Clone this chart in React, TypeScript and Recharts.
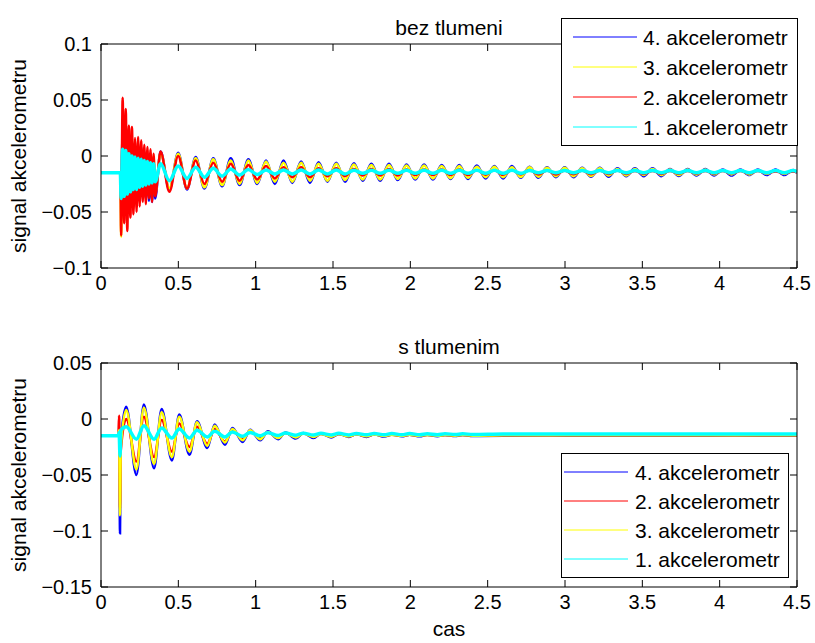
import React from 'react';
import { LineChart, Line, XAxis, YAxis, Legend } from 'recharts';

const FONT = '"Liberation Sans", Arial, Helvetica, sans-serif';

// ---------- shared axis ticks ----------
const X_TICKS = [0, 0.5, 1, 1.5, 2, 2.5, 3, 3.5, 4, 4.5];
const TOP_Y_TICKS = [-0.1, -0.05, 0, 0.05, 0.1];
const BOTTOM_Y_TICKS = [-0.15, -0.1, -0.05, 0, 0.05];

const TOP_TITLE = 'bez tlumeni';
const BOTTOM_TITLE = 's tlumenim';
const Y_LABEL = 'signal akcelerometru';
const X_LABEL = 'cas';

// ---------- top panel (bez tlumeni) ----------
const topTime = [
  0, 0.125,
  0.13, 0.14, 0.15, 0.16, 0.17, 0.18, 0.19, 0.2, 0.21, 0.22, 0.23, 0.24, 0.25, 0.26, 0.27, 0.28, 0.29, 0.3, 0.31, 0.32, 0.33, 0.34, 0.35,
  0.385, 0.442, 0.499, 0.556, 0.612, 0.669, 0.726, 0.783, 0.839, 0.896, 0.953, 1.01, 1.067, 1.124, 1.18, 1.237,
  1.294, 1.351, 1.407, 1.464, 1.521, 1.578, 1.635, 1.692, 1.748, 1.805, 1.862, 1.919, 1.975, 2.032, 2.089, 2.146,
  2.203, 2.26, 2.316, 2.373, 2.43, 2.487, 2.543, 2.6, 2.657, 2.714, 2.771, 2.828, 2.884, 2.941, 2.998, 3.055,
  3.111, 3.168, 3.225, 3.282, 3.339, 3.396, 3.452, 3.509, 3.566, 3.623, 3.679, 3.736, 3.793, 3.85, 3.907, 3.964,
  4.02, 4.077, 4.134, 4.191, 4.247, 4.304, 4.361, 4.418, 4.475, 4.5,
];

const topAk4 = [
  -0.015, -0.015,
  -0.03, 0.02, -0.045, 0.027, -0.048, 0.015, -0.042, 0.012, -0.045, 0.01, -0.04, 0.006, -0.038, 0.008, -0.035, 0.004, -0.038, 0.002, -0.04, 0.0, -0.041, -0.004, -0.038,
  0.004, -0.03, 0.003, -0.03, -0.001, -0.029, -0.002, -0.027, -0.002, -0.026, -0.003, -0.025, -0.004, -0.025, -0.004, -0.024,
  -0.005, -0.024, -0.0055, -0.023, -0.006, -0.023, -0.0065, -0.022, -0.007, -0.022, -0.007, -0.0215, -0.0075, -0.021, -0.0075, -0.021,
  -0.008, -0.0205, -0.008, -0.0205, -0.0085, -0.02, -0.009, -0.02, -0.009, -0.0195, -0.0095, -0.0195, -0.01, -0.019, -0.01, -0.019,
  -0.0105, -0.0185, -0.0105, -0.0185, -0.011, -0.018, -0.011, -0.018, -0.011, -0.018, -0.0115, -0.0178, -0.0115, -0.0175, -0.0115, -0.0175,
  -0.012, -0.0175, -0.012, -0.017, -0.012, -0.017, -0.012, -0.017, -0.0125, -0.015,
];

const topAk3 = [
  -0.015, -0.015,
  -0.072, 0.03, -0.05, 0.025, -0.052, 0.018, -0.045, 0.015, -0.044, 0.01, -0.04, 0.008, -0.038, 0.006, -0.036, 0.004, -0.036, 0.003, -0.035, 0.002, -0.036, 0.0, -0.034,
  0.003, -0.029, 0.002, -0.029, -0.002, -0.028, -0.003, -0.026, -0.004, -0.025, -0.004, -0.024, -0.005, -0.023, -0.006, -0.023,
  -0.006, -0.022, -0.007, -0.022, -0.007, -0.0215, -0.0075, -0.021, -0.008, -0.021, -0.008, -0.0205, -0.0085, -0.02, -0.0085, -0.02,
  -0.009, -0.0198, -0.009, -0.0195, -0.0095, -0.019, -0.0095, -0.019, -0.01, -0.0188, -0.01, -0.0185, -0.0105, -0.018, -0.0105, -0.018,
  -0.011, -0.0178, -0.011, -0.0175, -0.0115, -0.0175, -0.0115, -0.017, -0.0115, -0.017, -0.012, -0.017, -0.012, -0.0168, -0.012, -0.0165,
  -0.0125, -0.0165, -0.0125, -0.0165, -0.0125, -0.016, -0.013, -0.016, -0.013, -0.0145,
];

const topAk2 = [
  -0.015, -0.015,
  -0.071, 0.052, -0.06, 0.042, -0.067, 0.027, -0.055, 0.026, -0.052, 0.016, -0.05, 0.017, -0.045, 0.014, -0.041, 0.01, -0.043, 0.008, -0.038, 0.006, -0.041, 0.002, -0.036,
  0.004, -0.032, 0.0, -0.029, -0.004, -0.025, -0.006, -0.023, -0.007, -0.022, -0.008, -0.021, -0.009, -0.02, -0.01, -0.019,
  -0.01, -0.019, -0.011, -0.018, -0.011, -0.018, -0.0115, -0.0175, -0.0115, -0.0175, -0.0115, -0.0175, -0.012, -0.017, -0.012, -0.017,
  -0.012, -0.017, -0.012, -0.017, -0.0125, -0.0168, -0.0125, -0.0168, -0.0125, -0.0165, -0.0125, -0.0165, -0.013, -0.0165, -0.013, -0.0163,
  -0.013, -0.0163, -0.013, -0.016, -0.013, -0.016, -0.0133, -0.016, -0.0133, -0.016, -0.0133, -0.0158, -0.0135, -0.0158, -0.0135, -0.0158,
  -0.0135, -0.0155, -0.0135, -0.0155, -0.0135, -0.0155, -0.0138, -0.0155, -0.0138, -0.0145,
];

const topAk1 = [
  -0.015, -0.015,
  -0.038, 0.006, -0.036, 0.005, -0.034, 0.002, -0.032, 0.0, -0.03, -0.001, -0.03, -0.002, -0.028, -0.003, -0.027, -0.004, -0.026, -0.005, -0.025, -0.006, -0.024, -0.007, -0.023,
  -0.007, -0.022, -0.009, -0.02, -0.01, -0.019, -0.011, -0.018, -0.0115, -0.017, -0.012, -0.0165, -0.0125, -0.016, -0.0125, -0.016,
  -0.0125, -0.016, -0.0125, -0.016, -0.0125, -0.016, -0.0128, -0.0155, -0.0128, -0.0155, -0.0128, -0.0155, -0.0128, -0.0155, -0.0128, -0.0155,
  -0.0128, -0.0155, -0.0128, -0.0155, -0.0128, -0.0155, -0.0128, -0.0155, -0.0128, -0.0155, -0.013, -0.015, -0.013, -0.015, -0.013, -0.015,
  -0.013, -0.015, -0.013, -0.015, -0.013, -0.015, -0.013, -0.015, -0.013, -0.015, -0.013, -0.015, -0.013, -0.015, -0.013, -0.015,
  -0.013, -0.015, -0.013, -0.015, -0.013, -0.015, -0.013, -0.015, -0.013, -0.014,
];

// ---------- bottom panel (s tlumenim) ----------
const bottomTime = [
  0, 0.112, 0.117, 0.123, 0.128,
  0.163, 0.229, 0.277, 0.343, 0.392, 0.458, 0.506, 0.572, 0.621, 0.687, 0.735, 0.801, 0.85, 0.916, 0.964, 1.03,
  1.079, 1.145, 1.193, 1.259, 1.308, 1.374, 1.422, 1.488, 1.537, 1.603, 1.651, 1.717, 1.766, 1.832, 1.88, 1.946,
  1.995, 2.061, 2.109, 2.175, 2.224, 2.29, 2.338, 2.404,
  2.6, 2.9, 3.2, 3.5, 3.8, 4.1, 4.5,
];

const bottomAk4 = [
  -0.015, -0.015, -0.012, -0.102, -0.02,
  0.011, -0.05, 0.013, -0.044, 0.009, -0.037, 0.004, -0.032, -0.002, -0.026, -0.005, -0.023, -0.008, -0.0205, -0.0095, -0.019,
  -0.011, -0.018, -0.012, -0.0175, -0.0125, -0.017, -0.013, -0.0165, -0.0133, -0.016, -0.0135, -0.016, -0.0137, -0.0157, -0.0138, -0.0155,
  -0.014, -0.0155, -0.014, -0.0153, -0.0142, -0.0152, -0.0143, -0.0152,
  -0.015, -0.0148, -0.015, -0.0149, -0.015, -0.0148, -0.015,
];

const bottomAk2 = [
  -0.015, -0.015, 0.003, -0.08, -0.028,
  0.0, -0.038, 0.002, -0.034, -0.001, -0.029, -0.004, -0.025, -0.007, -0.022, -0.009, -0.02, -0.01, -0.018, -0.011, -0.017,
  -0.012, -0.0165, -0.0125, -0.016, -0.013, -0.0158, -0.0133, -0.0155, -0.0135, -0.0153, -0.0137, -0.0152, -0.0138, -0.015, -0.014, -0.015,
  -0.014, -0.015, -0.0142, -0.0149, -0.0143, -0.0149, -0.0143, -0.0148,
  -0.0145, -0.0144, -0.0146, -0.0145, -0.0144, -0.0146, -0.0145,
];

const bottomAk3 = [
  -0.015, -0.015, -0.01, -0.086, -0.025,
  0.008, -0.045, 0.01, -0.04, 0.006, -0.034, 0.002, -0.029, -0.003, -0.024, -0.006, -0.021, -0.009, -0.019, -0.01, -0.018,
  -0.0115, -0.017, -0.0125, -0.0165, -0.013, -0.016, -0.0133, -0.0158, -0.0135, -0.0155, -0.0137, -0.0153, -0.0138, -0.0152, -0.014, -0.015,
  -0.014, -0.015, -0.0142, -0.015, -0.0143, -0.0149, -0.0143, -0.0149,
  -0.0145, -0.0146, -0.0144, -0.0145, -0.0146, -0.0144, -0.0145,
];

const bottomAk1 = [
  -0.015, -0.015, -0.012, -0.033, -0.01,
  -0.007, -0.018, -0.006, -0.018, -0.008, -0.017, -0.009, -0.017, -0.01, -0.016, -0.011, -0.016, -0.0115, -0.0155, -0.012, -0.015,
  -0.0122, -0.0148, -0.0125, -0.0145, -0.0127, -0.0143, -0.0128, -0.0142, -0.0128, -0.0142, -0.0129, -0.0141, -0.0129, -0.0141, -0.013, -0.014,
  -0.013, -0.014, -0.0131, -0.014, -0.0131, -0.0139, -0.0132, -0.0138,
  -0.0134, -0.0134, -0.0133, -0.0134, -0.0134, -0.0133, -0.0134,
];

// ---------- series definitions ----------
type Series = { key: string; name: string; color: string; width: number };

const TOP_SERIES: Series[] = [
  { key: 'ak4', name: '4. akcelerometr', color: '#0000ff', width: 2.5 },
  { key: 'ak3', name: '3. akcelerometr', color: '#ffff00', width: 2.5 },
  { key: 'ak2', name: '2. akcelerometr', color: '#ff0000', width: 2.5 },
  { key: 'ak1', name: '1. akcelerometr', color: '#00ffff', width: 3.5 },
];

const BOTTOM_SERIES: Series[] = [
  { key: 'ak4', name: '4. akcelerometr', color: '#0000ff', width: 2.5 },
  { key: 'ak2', name: '2. akcelerometr', color: '#ff0000', width: 2.5 },
  { key: 'ak3', name: '3. akcelerometr', color: '#ffff00', width: 2.5 },
  { key: 'ak1', name: '1. akcelerometr', color: '#00ffff', width: 3.5 },
];

const topData = topTime.map((t, i) => ({ t, ak4: topAk4[i], ak3: topAk3[i], ak2: topAk2[i], ak1: topAk1[i] }));
const bottomData = bottomTime.map((t, i) => ({ t, ak4: bottomAk4[i], ak3: bottomAk3[i], ak2: bottomAk2[i], ak1: bottomAk1[i] }));

const fmt = (v: number) => (v < 0 ? '\u2212' + String(-v) : String(v));
const blank = () => '';

const TICK_FS = 20;
const LABEL_FS = 21;
const LEGEND_FS = 21;

type LegendSpec = {
  left: number; top: number; width: number; height: number;
  firstRow: number; rowGap: number; lineX: number; lineLen: number; textX: number;
};

function LegendBox({ series, spec }: { series: Series[]; spec: LegendSpec }) {
  return (
    <svg width={spec.width} height={spec.height} style={{ display: 'block' }}>
      <rect x={0.5} y={0.5} width={spec.width - 1} height={spec.height - 1} fill="#fff" stroke="#000" strokeWidth={1} />
      {series.map((s, i) => {
        const y = spec.firstRow + i * spec.rowGap;
        return (
          <g key={s.key}>
            <line x1={spec.lineX} x2={spec.lineX + spec.lineLen} y1={y} y2={y} stroke={s.color} strokeWidth={1} />
            <text x={spec.textX} y={y} dominantBaseline="central" fontFamily={FONT} fontSize={LEGEND_FS} fill="#000">
              {s.name}
            </text>
          </g>
        );
      })}
    </svg>
  );
}

type PanelProps = {
  data: any[];
  series: Series[];
  height: number;
  marginTop: number;
  xAxisHeight: number;
  yDomain: [number, number];
  yTicks: number[];
  title: string;
  xLabel?: string;
  legend: LegendSpec;
};

function Panel(p: PanelProps) {
  const axisStroke = { stroke: '#000', strokeWidth: 1 };
  const tickStyle = { fill: '#000', fontSize: TICK_FS, fontFamily: FONT };
  return (
    <LineChart width={815} height={p.height} data={p.data} margin={{ top: p.marginTop - 1, right: 17, bottom: 0, left: 0 }}>
      <XAxis
        xAxisId="b" dataKey="t" type="number" domain={[0, 4.5]} ticks={X_TICKS} interval={0} allowDataOverflow
        height={p.xAxisHeight} tickSize={-7} tickMargin={15} axisLine={axisStroke} tickLine={axisStroke}
        tick={tickStyle} fontSize={TICK_FS} fontFamily={FONT} tickFormatter={fmt}
        label={p.xLabel ? { value: p.xLabel, position: 'insideBottom', offset: 7, fill: '#000', fontSize: LABEL_FS, fontFamily: FONT } : undefined}
      />
      <XAxis
        xAxisId="t" orientation="top" dataKey="t" type="number" domain={[0, 4.5]} ticks={X_TICKS} interval={0} allowDataOverflow
        height={1} tickSize={-7} axisLine={axisStroke} tickLine={axisStroke} tickFormatter={blank} tick={tickStyle}
        fontSize={LABEL_FS} fontFamily={FONT}
        label={{ value: p.title, position: 'top', offset: 8, fill: '#000', fontSize: LABEL_FS, fontFamily: FONT }}
      />
      <YAxis
        yAxisId="l" type="number" domain={p.yDomain} ticks={p.yTicks} interval={0} allowDataOverflow
        width={101} tickSize={-7} tickMargin={16} axisLine={axisStroke} tickLine={axisStroke}
        tick={tickStyle} fontSize={TICK_FS} fontFamily={FONT} tickFormatter={fmt}
        label={{ value: Y_LABEL, angle: -90, position: 'insideLeft', offset: 19, fill: '#000', fontSize: LABEL_FS, fontFamily: FONT, style: { textAnchor: 'middle' } }}
      />
      <YAxis
        yAxisId="r" orientation="right" type="number" domain={p.yDomain} ticks={p.yTicks} interval={0} allowDataOverflow
        width={1} tickSize={-7} axisLine={axisStroke} tickLine={axisStroke} tickFormatter={blank} tick={tickStyle}
      />
      {p.series.map((s) => (
        <Line
          key={s.key} xAxisId="b" yAxisId="l" dataKey={s.key} name={s.name} type="monotone"
          stroke={s.color} strokeWidth={s.width} dot={false} activeDot={false} isAnimationActive={false}
        />
      ))}
      <Legend
        layout="vertical" align="center" verticalAlign="middle"
        wrapperStyle={{ left: p.legend.left, top: p.legend.top, width: p.legend.width, height: p.legend.height }}
        content={() => <LegendBox series={p.series} spec={p.legend} />}
      />
    </LineChart>
  );
}

const TOP_LEGEND: LegendSpec = { left: 561, top: 18, width: 237, height: 128, firstRow: 19, rowGap: 30, lineX: 12, lineLen: 64, textX: 82 };
const BOTTOM_LEGEND: LegendSpec = { left: 561, top: 133, width: 228, height: 125, firstRow: 19, rowGap: 29, lineX: 3, lineLen: 64, textX: 74 };

export default function App() {
  return (
    <div style={{ position: 'absolute', left: 0, top: 0, width: 815, height: 643, background: '#fff', fontFamily: FONT }}>
      <div style={{ position: 'absolute', left: 0, top: 0 }}>
        <Panel
          data={topData} series={TOP_SERIES} height={300} marginTop={44} xAxisHeight={32}
          yDomain={[-0.1, 0.1]} yTicks={TOP_Y_TICKS} title={TOP_TITLE} legend={TOP_LEGEND}
        />
      </div>
      <div style={{ position: 'absolute', left: 0, top: 320 }}>
        <Panel
          data={bottomData} series={BOTTOM_SERIES} height={323} marginTop={43} xAxisHeight={56}
          yDomain={[-0.15, 0.05]} yTicks={BOTTOM_Y_TICKS} title={BOTTOM_TITLE} xLabel={X_LABEL} legend={BOTTOM_LEGEND}
        />
      </div>
    </div>
  );
}
